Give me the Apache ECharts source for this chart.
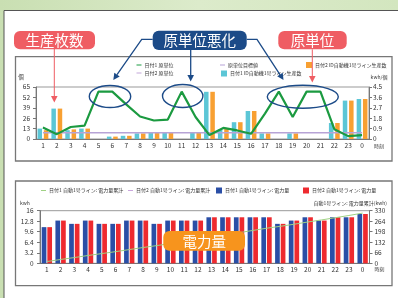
<!DOCTYPE html>
<html>
<head>
<meta charset="utf-8">
<script src="https://cdn.jsdelivr.net/npm/echarts@6/dist/echarts.min.js"></script>
<style>
  html, body { margin: 0; padding: 0; }
  #main { width: 398px; height: 298px; }
</style>
</head>
<body>
<div id="main"></div>
<script>
// hours on both x axes
var hours = ['1','2','3','4','5','6','7','8','9','10','11','12','13','14','15','16','17','18','19','20','21','22','23','0'];

// top chart: production counts (left axis) and unit consumption (right axis)
var prod1 = [13, 38, 11, 13, null, 3, 4, 7, 8, 8, null, 8, 59, 12, 21, 35, 7, null, 7, null, null, 20, 48, 50];
var prod2 = [11, 38, 12, 13, null, 3, 4, 7, 8, 8, null, 8, 59, 13, 21, 35, 7, null, 7, null, null, 20, 48, 50];
var unit1 = [0.99, 0.42, 1.04, 1.16, 4.1, 4.1, 3.0, 1.95, 1.6, 1.68, 4.1, 1.9, 0.34, 0.96, 0.74, 0.45, 2.2, 4.1, 1.9, 4.1, 4.1, 0.85, 0.25, 0.34];
var target = [0.55, 0.55, 0.55, 0.55, 0.55, 0.55, 0.55, 0.55, 0.55, 0.55, 0.55, 0.55, 0.55, 0.55, 0.55, 0.55, 0.55, 0.55, 0.55, 0.55, 0.55, 0.55, 0.55, 0.55];
var unit2 = [];

// bottom chart: hourly energy (left axis) and running total (right axis)
var kwh1 = [11, 13, 12, 13, 12, 12, 13, 13, 12, 13, 13, 13, 14, 14, 14, 14, 14, 12, 13, 14, 13, 14, 14, 15];
var kwh2 = [11, 13, 12, 13, 12, 12, 13, 13, 12, 13, 13, 13, 14, 14, 14, 14, 14, 12, 13, 14, 13, 14, 14, 15];
var cum1 = [11, 24, 36, 49, 61, 73, 86, 99, 111, 124, 137, 150, 164, 178, 192, 206, 220, 232, 245, 259, 272, 286, 300, 315];
var cum2 = [];

var FONT = '"Noto Sans CJK JP", "Noto Sans", sans-serif';
var NAVY = '#1c4b88';
var CORAL = '#ef5d63';

var chartDom = document.getElementById('main');
var myChart = echarts.init(chartDom);

function fmt1(v) { return v === 0 ? '0' : (+v.toFixed(1)).toString(); }

function legendItem(name, left, top, kind) {
  var isLine = kind === 'line';
  return {
    data: [name],
    left: left, top: top,
    padding: 0,
    icon: 'rect',
    itemWidth: isLine ? 5 : 6,
    itemHeight: isLine ? 1 : 6,
    itemGap: 3,
    selectedMode: false,
    textStyle: { fontSize: 5, color: '#333', fontFamily: FONT, padding: [0, 0, 0, -2] }
  };
}

function xAxisOpt(gridIndex, margin) {
  return {
    type: 'category', gridIndex: gridIndex, data: hours,
    axisLine: { lineStyle: { color: '#777', width: 1 } },
    axisTick: { length: 3, lineStyle: { color: '#777' } },
    axisLabel: { fontSize: 6.5, color: '#333', margin: margin, fontFamily: FONT },
    name: '時刻', nameLocation: 'end', nameGap: 5,
    nameTextStyle: { fontSize: 5, color: '#333', fontFamily: FONT, verticalAlign: 'top', padding: [margin + 1, 0, 0, 0] }
  };
}

function yAxisOpt(gridIndex, pos, max, interval, margin, formatter) {
  return {
    type: 'value', gridIndex: gridIndex, position: pos,
    min: 0, max: max, interval: interval,
    splitLine: { show: false },
    axisLine: { show: true, lineStyle: { color: '#777', width: 1 } },
    axisTick: { show: true, length: 3, lineStyle: { color: '#777' } },
    axisLabel: { fontSize: 6.5, color: '#333', margin: margin, fontFamily: FONT, formatter: formatter }
  };
}

function arrow(points, color, width) {
  // polyline ending in a filled head at the last point
  var n = points.length;
  var tip = points[n - 1], prev = points[n - 2];
  var dx = tip[0] - prev[0], dy = tip[1] - prev[1];
  var len = Math.sqrt(dx * dx + dy * dy);
  var ux = dx / len, uy = dy / len;
  var hl = 6.5, hw = 3.3;
  var bx = tip[0] - ux * hl, by = tip[1] - uy * hl;
  var shaft = points.slice(0, n - 1).concat([[bx, by]]);
  return [
    { type: 'polyline', z: 100, shape: { points: shaft }, style: { stroke: color, lineWidth: width, fill: null } },
    { type: 'polygon', z: 100, shape: { points: [tip, [bx - uy * hw, by + ux * hw], [bx + uy * hw, by - ux * hw]] }, style: { fill: color } }
  ];
}

function callout(x, y, w, h, text, color) {
  return [
    { type: 'rect', z: 101, shape: { x: x, y: y, width: w, height: h, r: 6 }, style: { fill: color } },
    { type: 'text', z: 102, x: x + w / 2, y: y + h / 2 + 0.5,
      style: { text: text, fill: '#fff', fontSize: 14.5, fontFamily: FONT, align: 'center', verticalAlign: 'middle' } }
  ];
}

function ring(cx, cy, rx, ry) {
  return { type: 'ellipse', z: 100, shape: { cx: cx, cy: cy, rx: rx, ry: ry }, style: { stroke: NAVY, lineWidth: 1.4, fill: null } };
}

var graphics = [
  { type: 'rect', z: -20, shape: { x: 0, y: 0, width: 398, height: 298 },
    style: { fill: new echarts.graphic.LinearGradient(0, 0, 1, 0, [{ offset: 0, color: '#c9dfb2' }, { offset: 0.5, color: '#dcebcb' }, { offset: 1, color: '#d3e6bf' }]) } },
  { type: 'rect', z: -19, shape: { x: 4, y: 10.5, width: 400, height: 300 }, style: { fill: '#fff', stroke: '#555', lineWidth: 1 } },
  { type: 'rect', z: -18, shape: { x: 15.5, y: 56.7, width: 376.5, height: 104.3 }, style: { fill: '#fff', stroke: '#777', lineWidth: 1.3 } },
  { type: 'rect', z: -18, shape: { x: 15.5, y: 181, width: 376.5, height: 104.7 }, style: { fill: '#fff', stroke: '#777', lineWidth: 1.3 } },
  { type: 'text', x: 21, y: 77, style: { text: '個', fontSize: 5.5, fill: '#333', fontFamily: FONT, align: 'center', verticalAlign: 'middle' } },
  { type: 'text', x: 379, y: 77, style: { text: 'kwh/個', fontSize: 5, fill: '#333', fontFamily: FONT, align: 'center', verticalAlign: 'middle' } },
  { type: 'text', x: 25, y: 203, style: { text: 'kwh', fontSize: 5, fill: '#333', fontFamily: FONT, align: 'center', verticalAlign: 'middle' } },
  { type: 'text', x: 387, y: 203, style: { text: '自動1号ライン: 電力量累計(kwh)', fontSize: 5, fill: '#333', fontFamily: FONT, align: 'right', verticalAlign: 'middle' } },
  ring(110, 96.5, 20.7, 11),
  ring(182.7, 96, 20.2, 11.5),
  ring(302.8, 96.8, 35.5, 11.5)
];
graphics = graphics
  .concat(arrow([[54.3, 49], [54.3, 102.5]], CORAL, 1))
  .concat(arrow([[312.3, 49.3], [312.3, 82.5]], CORAL, 1))
  .concat(arrow([[152.7, 39.3], [141.7, 39.3], [113.3, 80]], NAVY, 1.3))
  .concat(arrow([[190.7, 50], [190.7, 81.5]], NAVY, 1.3))
  .concat(arrow([[246.7, 39.3], [257, 39.3], [283.5, 80]], NAVY, 1.3))
  .concat(callout(14, 31, 81, 18.3, '生産枚数', CORAL))
  .concat(callout(152.7, 30.7, 94, 19.3, '原単位悪化', NAVY))
  .concat(callout(278.3, 31, 68.4, 18.3, '原単位', CORAL))
  .concat(callout(163.3, 231, 81.7, 19.7, '電力量', '#f7941d'));

var option = {
  animation: false,
  textStyle: { fontFamily: FONT },
  graphic: graphics,
  legend: [
    legendItem('日付1 原単位', 136.5, 62.5, 'line'),
    legendItem('日付2 原単位', 136.5, 70.5, 'line'),
    legendItem('原単位目標値', 220, 62.5, 'line'),
    legendItem('日付1 ID自動機1号ライン生産数', 221, 70.5, 'box'),
    legendItem('日付2 ID自動機1号ライン生産数', 306, 62, 'box'),
    legendItem('日付1 自動1号ライン: 電力量累計', 41, 188, 'line'),
    legendItem('日付2 自動1号ライン: 電力量累計', 128, 188, 'line'),
    legendItem('日付1 自動1号ライン: 電力量', 216, 187.5, 'box'),
    legendItem('日付2 自動1号ライン: 電力量', 303, 187.5, 'box')
  ],
  grid: [
    { left: 36, right: 29, top: 87, height: 52, show: true, borderColor: '#999', borderWidth: 1, backgroundColor: 'transparent' },
    { left: 40, right: 28.5, top: 210.7, height: 52.6, show: true, borderColor: '#999', borderWidth: 1, backgroundColor: 'transparent' }
  ],
  xAxis: [xAxisOpt(0, 3.5), xAxisOpt(1, 2.5)],
  yAxis: [
    yAxisOpt(0, 'left', 65, 13, 6),
    yAxisOpt(0, 'right', 4.5, 0.9, 4, fmt1),
    yAxisOpt(1, 'left', 16, 3.2, 6.5, fmt1),
    yAxisOpt(1, 'right', 330, 66, 5)
  ],
  series: [
    { name: '日付1 ID自動機1号ライン生産数', type: 'bar', xAxisIndex: 0, yAxisIndex: 0, data: prod1,
      barWidth: 4.5, barGap: '40%', itemStyle: { color: '#5cc6d6' } },
    { name: '日付2 ID自動機1号ライン生産数', type: 'bar', xAxisIndex: 0, yAxisIndex: 0, data: prod2,
      barWidth: 4.5, itemStyle: { color: '#f8a032' } },
    { name: '原単位目標値', type: 'line', xAxisIndex: 0, yAxisIndex: 1, data: target, symbol: 'none',
      itemStyle: { color: '#b7a3d6' }, lineStyle: { color: '#b7a3d6', width: 1.5 }, z: 3 },
    { name: '日付2 原単位', type: 'line', xAxisIndex: 0, yAxisIndex: 1, data: unit2, symbol: 'none',
      itemStyle: { color: '#c3a6d8' }, lineStyle: { color: '#c3a6d8', width: 1.5 } },
    { name: '日付1 原単位', type: 'line', xAxisIndex: 0, yAxisIndex: 1, data: unit1, symbol: 'none',
      itemStyle: { color: '#1b9a40' }, lineStyle: { color: '#1b9a40', width: 2.2 }, z: 5 },

    { name: '日付1 自動1号ライン: 電力量', type: 'bar', xAxisIndex: 1, yAxisIndex: 2, data: kwh1,
      barWidth: 4.7, barGap: '20%', itemStyle: { color: '#2a4ea6' } },
    { name: '日付2 自動1号ライン: 電力量', type: 'bar', xAxisIndex: 1, yAxisIndex: 2, data: kwh2,
      barWidth: 4.7, itemStyle: { color: '#ee2a2f' } },
    { name: '日付2 自動1号ライン: 電力量累計', type: 'line', xAxisIndex: 1, yAxisIndex: 3, data: cum2, symbol: 'none',
      itemStyle: { color: '#c9a6dd' }, lineStyle: { color: '#c9a6dd', width: 1 } },
    { name: '日付1 自動1号ライン: 電力量累計', type: 'line', xAxisIndex: 1, yAxisIndex: 3, data: cum1, symbol: 'none',
      itemStyle: { color: '#9fd183' }, lineStyle: { color: '#9fd183', width: 1 }, z: 5 }
  ]
};

myChart.setOption(option);
</script>
</body>
</html>
